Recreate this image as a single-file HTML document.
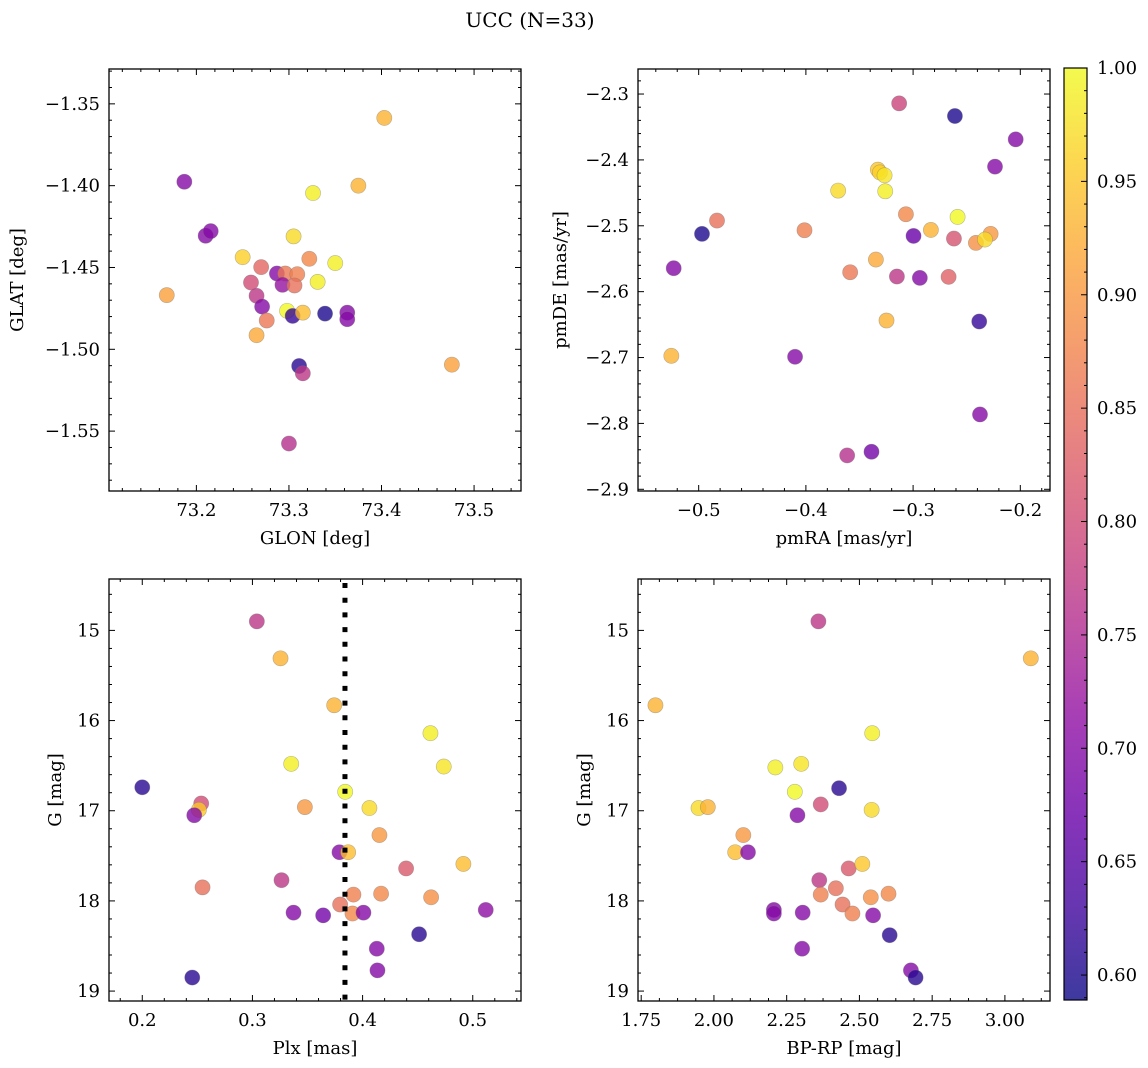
<!DOCTYPE html>
<html><head><meta charset="utf-8"><style>
html,body{margin:0;padding:0;background:#fff}
svg{display:block;font-family:"DejaVu Serif","Liberation Serif",serif}
</style></head><body>
<svg id="fig" width="1148" height="1068" viewBox="0 0 1148 1068" xmlns="http://www.w3.org/2000/svg">
<text x="530" y="27" font-size="20" text-anchor="middle">UCC (N=33)</text>
</svg>
<script>
// ---- data (membership probability per star) ----
const glon = [73.403,73.187,73.375,73.326,73.210,73.2155,73.305,73.250,73.322,73.350,73.270,73.287,73.296,73.309,73.259,73.293,73.306,73.331,73.168,73.265,73.271,73.298,73.304,73.315,73.339,73.363,73.363,73.276,73.265,73.311,73.315,73.476,73.300];
const glat = [-1.3586,-1.3976,-1.400,-1.4045,-1.4306,-1.4278,-1.431,-1.4437,-1.4447,-1.4473,-1.4498,-1.4537,-1.4537,-1.4541,-1.4592,-1.4606,-1.461,-1.4588,-1.4669,-1.4673,-1.4739,-1.4765,-1.4796,-1.4776,-1.4782,-1.4776,-1.4816,-1.4824,-1.4914,-1.5102,-1.5147,-1.5094,-1.5576];
const probA = [0.93,0.70,0.93,0.99,0.70,0.70,0.97,0.96,0.88,0.99,0.84,0.70,0.86,0.87,0.80,0.72,0.85,0.99,0.91,0.77,0.70,1.0,0.62,0.94,0.60,0.70,0.70,0.86,0.92,0.61,0.77,0.91,0.76];

const pmra = [-0.3130,-0.2610,-0.2043,-0.2236,-0.3329,-0.3310,-0.3266,-0.3699,-0.3260,-0.3067,-0.2585,-0.4829,-0.2834,-0.4013,-0.4969,-0.2996,-0.2619,-0.2414,-0.2277,-0.2330,-0.3347,-0.5233,-0.3587,-0.3151,-0.2937,-0.2669,-0.3248,-0.2383,-0.5255,-0.4101,-0.2376,-0.3388,-0.3615];
const pmde = [-2.3142,-2.3334,-2.3688,-2.4102,-2.4148,-2.4190,-2.4234,-2.4466,-2.4476,-2.4825,-2.4866,-2.4921,-2.5063,-2.5068,-2.5123,-2.5154,-2.5194,-2.5260,-2.5123,-2.5209,-2.5513,-2.5644,-2.5705,-2.5770,-2.5791,-2.5775,-2.6438,-2.6453,-2.6974,-2.6989,-2.7864,-2.8430,-2.8486];
const probB = [0.79,0.60,0.70,0.70,0.95,0.96,0.98,0.97,0.99,0.88,1.0,0.85,0.93,0.87,0.60,0.67,0.81,0.89,0.90,0.97,0.92,0.70,0.86,0.77,0.70,0.83,0.93,0.62,0.93,0.70,0.70,0.68,0.76];

const plx = [0.304,0.3255,0.3742,0.4616,0.3352,0.4737,0.200,0.3842,0.2535,0.2514,0.2472,0.3476,0.4062,0.4153,0.379,0.3869,0.4395,0.4915,0.3264,0.2547,0.3917,0.4168,0.4622,0.3796,0.3908,0.3373,0.3642,0.4008,0.5118,0.4513,0.4129,0.4135,0.2454];
const gmagC = [14.90,15.31,15.83,16.14,16.48,16.51,16.74,16.79,16.92,16.99,17.05,16.96,16.97,17.27,17.46,17.46,17.64,17.59,17.77,17.85,17.93,17.92,17.96,18.04,18.14,18.13,18.16,18.13,18.10,18.37,18.53,18.77,18.85];
const probC = [0.77,0.93,0.93,0.99,0.99,0.98,0.61,1.0,0.80,0.95,0.70,0.90,0.97,0.90,0.70,0.94,0.82,0.94,0.77,0.85,0.87,0.88,0.89,0.85,0.88,0.70,0.68,0.70,0.71,0.61,0.70,0.70,0.61];
const plxCut = [0.384];

const bprp = [2.359,3.089,1.799,2.544,2.211,2.300,2.430,2.278,2.367,1.947,1.979,2.287,2.542,2.101,2.073,2.117,2.463,2.510,2.362,2.419,2.367,2.539,2.600,2.442,2.476,2.206,2.206,2.305,2.547,2.604,2.303,2.677,2.693];
const gmagD = [14.90,15.31,15.83,16.14,16.52,16.48,16.75,16.79,16.93,16.97,16.96,17.05,16.99,17.27,17.46,17.46,17.64,17.59,17.77,17.86,17.93,17.96,17.92,18.04,18.14,18.10,18.14,18.13,18.16,18.38,18.53,18.77,18.85];
const probD = [0.77,0.93,0.93,0.99,0.99,0.98,0.61,1.0,0.80,0.97,0.93,0.70,0.97,0.90,0.94,0.70,0.82,0.95,0.77,0.85,0.87,0.89,0.88,0.85,0.87,0.70,0.70,0.70,0.70,0.61,0.70,0.70,0.61];

const cbTicks = [0.60,0.65,0.70,0.75,0.80,0.85,0.90,0.95,1.00];

const NS = "http://www.w3.org/2000/svg";
const svg = document.getElementById('fig');
const VMIN = 0.589, VMAX = 1.0;
const FS = 18;
const stops = ["#0d0887","#41049d","#6a00a8","#8f0da4","#b12a90","#cc4778","#e16462","#f2844b","#fca636","#fcce25","#f0f921"];
function hex(h){return [parseInt(h.substr(1,2),16),parseInt(h.substr(3,2),16),parseInt(h.substr(5,2),16)];}
function plasma(t){
  t=Math.max(0,Math.min(1,t));const p=t*10;const i=Math.min(9,Math.floor(p));const f=p-i;
  const a=hex(stops[i]),b=hex(stops[i+1]);
  return 'rgb('+a.map((v,k)=>Math.round(v+(b[k]-v)*f)).join(',')+')';
}
function el(tag,attrs,parent){const e=document.createElementNS(NS,tag);for(const k in attrs)e.setAttribute(k,attrs[k]);(parent||svg).appendChild(e);return e;}
function fmt(v,d){return v.toFixed(d).replace('-','\u2212');}

function panel(o){
  const g=el('g',{});
  
  
  const sx=v=>o.L+(v-o.x0)/(o.x1-o.x0)*(o.R-o.L);
  const sy=v=>o.inv? o.T+(v-o.y0)/(o.y1-o.y0)*(o.B-o.T) : o.B-(v-o.y0)/(o.y1-o.y0)*(o.B-o.T);
  for(let i=0;i<o.xs.length;i++){
    const c=el('circle',{cx:sx(o.xs[i]),cy:sy(o.ys[i]),r:7.6,fill:plasma((o.ps[i]-VMIN)/(VMAX-VMIN)),'fill-opacity':0.8,stroke:'#777','stroke-opacity':0.5,'stroke-width':0.6},g);
    
    
  }
  if(o.vline){
    const l=el('line',{x1:sx(o.vline[0]),x2:sx(o.vline[0]),y1:o.T,y2:o.B,stroke:'#000','stroke-width':5,'stroke-dasharray':'5 9.7','stroke-dashoffset':'-4'},g);
    
    
  }
  const f=el('rect',{x:o.L,y:o.T,width:o.R-o.L,height:o.B-o.T,fill:'none',stroke:'#000','stroke-width':1.3},g);
  
  
  const xstep=o.xmaj/o.xsub;
  for(let k=Math.ceil(o.x0/xstep-1e-6);k*xstep<=o.x1+1e-9;k++){
    const v=k*xstep,x=sx(v);const maj=Math.abs(k%o.xsub)<1e-6;const len=maj?6:3;
    el('line',{x1:x,x2:x,y1:o.B,y2:o.B-len,stroke:'#000','stroke-width':1},g);
    el('line',{x1:x,x2:x,y1:o.T,y2:o.T+len,stroke:'#000','stroke-width':1},g);
    if(maj){const t=el('text',{x:x,y:o.B+25,'font-size':FS,'text-anchor':'middle'},g);t.textContent=fmt(v,o.xd);
      
      }
  }
  const ystep=o.ymaj/o.ysub;
  const ylo=Math.min(o.y0,o.y1),yhi=Math.max(o.y0,o.y1);
  for(let k=Math.ceil(ylo/ystep-1e-6);k*ystep<=yhi+1e-9;k++){
    const v=k*ystep,y=sy(v);const maj=Math.abs(Math.round(k)%o.ysub)===0;const len=maj?6:3;
    el('line',{x1:o.L,x2:o.L+len,y1:y,y2:y,stroke:'#000','stroke-width':1},g);
    el('line',{x1:o.R,x2:o.R-len,y1:y,y2:y,stroke:'#000','stroke-width':1},g);
    if(maj){const t=el('text',{x:o.L-9,y:y+6,'font-size':FS,'text-anchor':'end'},g);t.textContent=fmt(v,o.yd);
      
      }
  }
  const xt=el('text',{x:(o.L+o.R)/2,y:o.B+53,'font-size':FS,'text-anchor':'middle'},g);xt.textContent=o.xl;
  
  
  const yt=el('text',{x:0,y:0,'font-size':FS,'text-anchor':'middle',transform:'translate('+o.ylx+','+((o.T+o.B)/2)+') rotate(-90)'},g);yt.textContent=o.yl;
  
  
}

panel({name:'glon-glat-panel',L:109,R:521,T:69,B:491,x0:73.1056,x1:73.5507,y0:-1.5866,y1:-1.3287,xmaj:0.1,xsub:5,xd:1,ymaj:0.05,ysub:5,yd:2,xs:glon,ys:glat,ps:probA,xl:'GLON [deg]',yl:'GLAT [deg]',ylx:23});
panel({name:'propermotion-panel',L:638,R:1050,T:69,B:491,x0:-0.5566,x1:-0.1723,y0:-2.9026,y1:-2.2620,xmaj:0.1,xsub:5,xd:1,ymaj:0.1,ysub:5,yd:1,xs:pmra,ys:pmde,ps:probB,xl:'pmRA [mas/yr]',yl:'pmDE [mas/yr]',ylx:566});
panel({name:'parallax-mag-panel',L:109,R:521,T:579,B:1001,x0:0.1698,x1:0.5438,y0:14.43,y1:19.11,inv:true,xmaj:0.1,xsub:5,xd:1,ymaj:1,ysub:5,yd:0,xs:plx,ys:gmagC,ps:probC,vline:plxCut,xl:'Plx [mas]',yl:'G [mag]',ylx:61});
panel({name:'cmd-panel',L:638,R:1050,T:579,B:1001,x0:1.739,x1:3.155,y0:14.43,y1:19.11,inv:true,xmaj:0.25,xsub:4,xd:2,ymaj:1,ysub:5,yd:0,xs:bprp,ys:gmagD,ps:probD,xl:'BP-RP [mag]',yl:'G [mag]',ylx:590});

const cg=el('g',{});


const defs=el('defs',{},cg);
const lg=el('linearGradient',{id:'cbg',x1:0,y1:1,x2:0,y2:0},defs);
for(let i=0;i<=20;i++){el('stop',{offset:i/20,'stop-color':plasma(i/20),'stop-opacity':0.8},lg);}
const CT=68,CB=1000,CL=1064,CR=1087;
el('rect',{x:CL,y:CT,width:CR-CL,height:CB-CT,fill:'url(#cbg)',stroke:'#000','stroke-width':1.2},cg);
const cy=v=>CB-(v-VMIN)/(VMAX-VMIN)*(CB-CT);
for(let k=59;k<=100;k++){const v=k/100,y=cy(v);if(y<CT-0.5)continue;const maj=k%5===0;
  el('line',{x1:CR,x2:CR-(maj?6:3),y1:y,y2:y,stroke:'#000','stroke-width':1},cg);}
cbTicks.forEach(v=>{const t=el('text',{x:CR+10,y:cy(v)+6,'font-size':FS},cg);t.textContent=v.toFixed(2);
  
  });
</script>
</body></html>
